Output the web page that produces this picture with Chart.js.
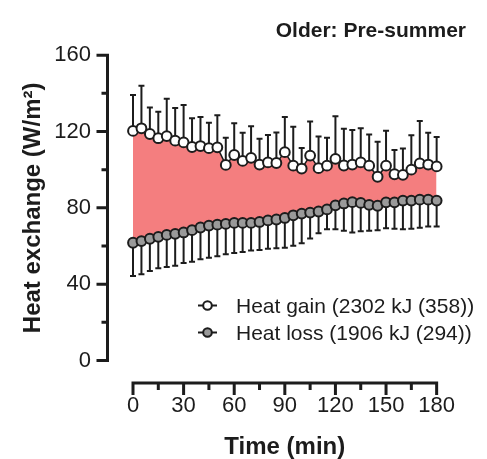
<!DOCTYPE html>
<html>
<head>
<meta charset="utf-8">
<script src="https://cdn.jsdelivr.net/npm/chart.js@4.4.0/dist/chart.umd.min.js"></script>
<style>
  html, body { margin: 0; padding: 0; background: #fff; }
</style>
</head>
<body>
<canvas id="heatChart" width="487" height="459"></canvas>
<script>
// Time points (min) and mean ± SD heat exchange (W/m²)
const minutes = [0, 5, 10, 15, 20, 25, 30, 35, 40, 45, 50, 55, 60, 65, 70, 75, 80, 85, 90,
    95, 100, 105, 110, 115, 120, 125, 130, 135, 140, 145, 150, 155, 160, 165, 170, 175, 180];
const heatGain = [120.3, 121.7, 118.7, 116.5, 117.6, 115.2, 114.3, 111.9, 112.4, 111.3,
    111.7, 102.5, 107.7, 104.6, 106.2, 102.7, 103.8, 103.5, 109.2, 102.1,
    100.6, 107.4, 100.8, 102.1, 105.7, 102.2, 102.7, 103.8, 102.1, 96.3,
    102.1, 97.6, 97.3, 100.0, 103.3, 102.7, 101.7];
const heatGainSD = [18.8, 22.3, 13.9, 13.9, 19.6, 17.1, 19.6, 15.0, 15.2, 13.3,
    16.8, 14.3, 16.7, 14.7, 16.6, 13.5, 14.4, 16.0, 18.4, 20.4,
    10.8, 17.9, 16.6, 14.7, 22.3, 19.2, 18.1, 17.9, 16.4, 18.4,
    18.3, 12.7, 13.8, 18.1, 22.2, 16.6, 15.4];
const heatLoss = [61.7, 62.6, 63.8, 64.8, 65.8, 66.4, 67.1, 68.3, 69.7, 70.7,
    71.2, 71.6, 72.1, 72.1, 72.1, 72.6, 73.4, 73.9, 74.7, 76.1,
    77.0, 77.5, 78.1, 79.2, 81.3, 82.3, 83.0, 82.6, 81.6, 81.1,
    82.9, 82.9, 83.8, 83.8, 84.3, 84.3, 83.8];
const heatLossSD = [17.4, 17.4, 16.9, 16.4, 16.8, 16.8, 16.0, 16.6, 16.7, 16.9,
    16.5, 15.9, 15.8, 15.2, 14.5, 14.7, 14.9, 15.1, 15.6, 16.0,
    15.5, 13.5, 11.4, 10.4, 12.5, 14.3, 15.9, 14.9, 13.6, 12.8,
    13.6, 13.8, 15.0, 14.7, 14.7, 14.1, 13.6];
const seriesLabels = ['Heat gain (2302 kJ (358))', 'Heat loss (1906 kJ (294))'];
const yTicks = [0, 40, 80, 120, 160];
const yMinorTicks = [20, 60, 100, 140];
const xTicks = [0, 30, 60, 90, 120, 150, 180];
const xMinorTicks = [15, 45, 75, 105, 135, 165];
const panelTitle = 'Older: Pre-summer';

const INK = '#1c1c1c';
const FONT = '"Liberation Sans", Arial, Helvetica, sans-serif';
Chart.defaults.font.family = FONT;
Chart.defaults.color = INK;

// SD whiskers: one-sided, up for gain and down for loss
const errorBars = {
    id: 'errorBars',
    beforeDatasetsDraw(chart) {
        const { ctx, scales: { x, y } } = chart;
        ctx.save();
        ctx.strokeStyle = INK;
        ctx.lineWidth = 2;
        chart.data.datasets.forEach(ds => {
            ds.data.forEach((p, i) => {
                const px = x.getPixelForValue(p.x);
                const y0 = y.getPixelForValue(p.y);
                const y1 = y.getPixelForValue(p.y + ds.errDir * ds.errSD[i]);
                ctx.beginPath();
                ctx.moveTo(px, y0);
                ctx.lineTo(px, y1);
                ctx.moveTo(px - 3, y1);
                ctx.lineTo(px + 3, y1);
                ctx.stroke();
            });
        });
        ctx.restore();
    }
};

// Detached Prism-style axes, panel title and the line+marker legend
const frame = {
    id: 'frame',
    afterDraw(chart) {
        const { ctx, scales: { x, y } } = chart;
        ctx.save();
        ctx.strokeStyle = INK;
        ctx.lineWidth = 3;
        ctx.lineCap = 'butt';

        // y axis
        const ax = 107.5;
        ctx.beginPath();
        ctx.moveTo(ax, y.getPixelForValue(160) - 1.5);
        ctx.lineTo(ax, y.getPixelForValue(0) + 1.5);
        yTicks.forEach(v => { const py = y.getPixelForValue(v); ctx.moveTo(ax, py); ctx.lineTo(ax - 11, py); });
        yMinorTicks.forEach(v => { const py = y.getPixelForValue(v); ctx.moveTo(ax, py); ctx.lineTo(ax - 6, py); });
        ctx.stroke();

        // x axis
        const ay = 383;
        ctx.beginPath();
        ctx.moveTo(x.getPixelForValue(0) - 1.5, ay);
        ctx.lineTo(x.getPixelForValue(180) + 1.5, ay);
        xTicks.forEach(v => { const px = x.getPixelForValue(v); ctx.moveTo(px, ay); ctx.lineTo(px, ay + 12); });
        xMinorTicks.forEach(v => { const px = x.getPixelForValue(v); ctx.moveTo(px, ay); ctx.lineTo(px, ay + 7); });
        ctx.stroke();

        // panel title
        ctx.fillStyle = INK;
        ctx.font = 'bold 21px ' + FONT;
        ctx.textAlign = 'right';
        ctx.textBaseline = 'alphabetic';
        ctx.fillText(panelTitle, 466, 37);

        // legend
        ctx.font = '21px ' + FONT;
        ctx.textAlign = 'left';
        chart.data.datasets.forEach((ds, i) => {
            const base = 313 + i * 27;
            const my = base - 7.5;
            ctx.lineWidth = 2;
            ctx.beginPath();
            ctx.moveTo(198, my);
            ctx.lineTo(217, my);
            ctx.stroke();
            ctx.beginPath();
            ctx.arc(207.5, my, 4.3, 0, Math.PI * 2);
            ctx.fillStyle = ds.pointBackgroundColor;
            ctx.fill();
            ctx.stroke();
            ctx.fillStyle = INK;
            ctx.fillText(ds.label, 236, base);
        });
        ctx.restore();
    }
};

new Chart(document.getElementById('heatChart'), {
    type: 'line',
    data: {
        datasets: [
            {
                label: seriesLabels[0],
                data: minutes.map((m, i) => ({ x: m, y: heatGain[i] })),
                errSD: heatGainSD,
                errDir: 1,
                borderColor: INK,
                borderWidth: 1.5,
                pointRadius: 4.9,
                pointBorderWidth: 2,
                pointBackgroundColor: '#ffffff',
                pointBorderColor: INK,
                backgroundColor: 'rgb(244, 126, 127)',
                fill: '+1',
                clip: false
            },
            {
                label: seriesLabels[1],
                data: minutes.map((m, i) => ({ x: m, y: heatLoss[i] })),
                errSD: heatLossSD,
                errDir: -1,
                borderColor: INK,
                borderWidth: 1.5,
                pointRadius: 4.9,
                pointBorderWidth: 2,
                pointBackgroundColor: '#9a9a9a',
                pointBorderColor: INK,
                fill: false,
                clip: false
            }
        ]
    },
    options: {
        responsive: false,
        animation: false,
        layout: { padding: { left: 0, right: 18.5, top: 23, bottom: 0 } },
        plugins: {
            legend: { display: false },
            tooltip: { enabled: false },
            filler: { drawTime: 'beforeDatasetsDraw' }
        },
        scales: {
            x: {
                type: 'linear',
                min: 0,
                max: 180,
                grid: { display: false, drawTicks: false },
                border: { display: false },
                afterBuildTicks: s => { s.ticks = xTicks.map(v => ({ value: v })); },
                afterFit: s => { s.height = 98.5; },
                ticks: { padding: 32, autoSkip: false, maxRotation: 0, font: { size: 22 } },
                title: {
                    display: true,
                    text: 'Time (min)',
                    font: { size: 24, weight: 'bold', lineHeight: 1 },
                    padding: { top: 0, bottom: 0 }
                }
            },
            y: {
                min: 0,
                max: 160,
                grid: { display: false, drawTicks: false },
                border: { display: false },
                afterBuildTicks: s => { s.ticks = yTicks.map(v => ({ value: v })); },
                afterFit: s => { s.width = 133; },
                ticks: { padding: 42, font: { size: 22 } },
                title: {
                    display: true,
                    text: 'Heat exchange (W/m²)',
                    font: { size: 24, weight: 'bold' },
                    padding: { top: 19, bottom: 0 }
                }
            }
        }
    },
    plugins: [errorBars, frame]
});
</script>
</body>
</html>
